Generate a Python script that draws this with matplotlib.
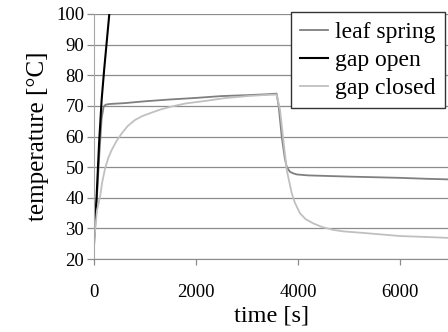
import matplotlib
matplotlib.use("Agg")
import matplotlib.pyplot as plt

# Data
leaf_t = [0, 50, 100, 150, 190, 230, 300, 600, 1000, 1500, 2000, 2500, 3000, 3400, 3580,
          3620, 3680, 3740, 3780, 3840, 3900, 3980, 4200, 4600, 5000, 5500, 6000, 6500, 6940]
leaf_T = [24, 38, 53, 66, 69.8, 70.4, 70.6, 70.9, 71.5, 72.1, 72.6, 73.2, 73.5, 73.8, 74.0,
          70, 60, 53, 50, 48.5, 48.0, 47.6, 47.3, 47.1, 46.9, 46.7, 46.5, 46.2, 46.0]

open_t = [0, 50, 100, 150, 200, 250, 300]
open_T = [27, 40, 58, 72, 82, 91, 100]

closed_t = [0, 30, 60, 120, 160, 216, 280, 347, 440, 543, 660, 804, 950, 1131, 1300, 1523,
            1800, 2176, 2549, 3000, 3300, 3580,
            3647, 3712, 3778, 3876, 3940, 4039, 4150, 4301, 4480, 4693, 4900, 5216, 6000, 6500, 6940]
closed_T = [24.6, 31, 36, 40.4, 45.0, 49.5, 53.0, 55.6, 58.5, 61, 63.4, 65.4, 66.7, 67.8, 68.8, 69.8,
            70.8, 71.6, 72.5, 73.2, 73.5, 73.7,
            68.7, 58.9, 49.1, 41.5, 38.3, 34.9, 33.0, 31.6, 30.4, 29.5, 29.0, 28.6, 27.5, 27.2, 26.9]

series_labels = ["leaf spring", "gap open", "gap closed"]
yticks = [20, 30, 40, 50, 60, 70, 80, 90, 100]
xticks = [0, 2000, 4000, 6000]

plt.rcParams['font.family'] = ['Liberation Serif', 'DejaVu Serif']

fig = plt.figure(figsize=(4.48, 3.32), dpi=100)
ax = fig.add_axes([94/448, 1 - 259/332, 1 - 94/448, (259 - 14)/332])

ax.plot(leaf_t, leaf_T, color='#7f7f7f', lw=1.3, label=series_labels[0])
ax.plot(open_t, open_T, color='#000000', lw=1.5, label=series_labels[1])
ax.plot(closed_t, closed_T, color='#c0c0c0', lw=1.3, label=series_labels[2])

ax.set_xlim(0, 6940)
ax.set_ylim(20, 100)
ax.set_yticks(yticks)
ax.set_xticks(xticks)
ax.yaxis.grid(True, color='#8c8c8c', lw=0.9)
ax.set_axisbelow(True)
for s in ['top', 'right']:
    ax.spines[s].set_visible(False)
ax.spines['left'].set_color('#a6a6a6')
ax.spines['bottom'].set_color('#8c8c8c')
ax.tick_params(axis='y', length=5, width=0.9, color='#8c8c8c', pad=2, labelsize=13.5)
ax.tick_params(axis='x', length=4, width=0.9, color='#8c8c8c', pad=14, labelsize=13.5)

ax.set_xlabel("time [s]", fontsize=17.5, labelpad=3)
ax.set_ylabel("temperature [°C]", fontsize=18, labelpad=5)

leg = ax.legend(loc='upper left', bbox_to_anchor=(291/448, 1 - 12/332),
                bbox_transform=fig.transFigure, fontsize=17, frameon=True,
                fancybox=False, edgecolor='#333333', framealpha=1,
                handlelength=1.15, handletextpad=0.32, borderpad=0.4,
                labelspacing=0.27, borderaxespad=0)
leg.get_frame().set_linewidth(1.0)

fig.savefig("out.png", dpi=100)
